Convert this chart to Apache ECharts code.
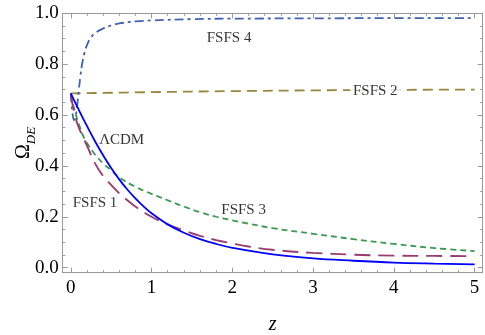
<!DOCTYPE html>
<html><head><meta charset="utf-8">
<script src="https://cdn.jsdelivr.net/npm/echarts@6/dist/echarts.min.js"></script>
<style>html,body{margin:0;padding:0;background:#fff}#c{width:485px;height:335px}</style>
</head><body><div id="c"></div>
<script>
// ΛCDM (solid blue)
const zLCDM = [0,0.1,0.2,0.3,0.4,0.5,0.6,0.7,0.8,0.9,1.0,1.2,1.4,1.6,1.8,2.0,2.5,3.0,3.5,4.0,4.5,5.0];
const vLCDM = [0.685,0.620,0.557,0.497,0.442,0.392,0.347,0.307,0.272,0.241,0.214,0.170,0.137,0.112,0.093,0.078,0.052,0.036,0.027,0.020,0.016,0.013];
// FSFS 1 (purple long dash)
const zF1 = [0,0.05,0.1,0.15,0.2,0.3,0.4,0.5,0.6,0.7,0.8,1.0,1.2,1.4,1.6,1.8,2.0,2.2,2.5,3.0,3.5,4.0,4.5,5.0];
const vF1 = [0.68,0.60,0.55,0.515,0.48,0.41,0.36,0.325,0.292,0.265,0.240,0.200,0.170,0.146,0.125,0.108,0.095,0.083,0.070,0.058,0.051,0.047,0.046,0.045];
// FSFS 2 (olive dash)
const zF2 = [0,1,2,3,4,5];
const vF2 = [0.685,0.690,0.694,0.697,0.699,0.700];
// FSFS 3 (green short dash)
const zF3 = [0,0.05,0.1,0.15,0.2,0.3,0.4,0.5,0.6,0.8,1.0,1.2,1.4,1.6,1.8,2.0,2.2,2.5,3.0,3.5,4.0,4.5,5.0];
const vF3 = [0.68,0.615,0.565,0.52,0.49,0.445,0.41,0.383,0.355,0.318,0.290,0.265,0.240,0.218,0.200,0.186,0.173,0.155,0.133,0.112,0.093,0.077,0.065];
// FSFS 4 (blue dash-dot)
const zF4 = [0,0.02,0.04,0.06,0.08,0.1,0.12,0.14,0.17,0.2,0.25,0.3,0.4,0.5,0.6,0.8,1.0,1.5,2.0,3.0,4.0,5.0];
const vF4 = [0.685,0.610,0.580,0.595,0.640,0.700,0.755,0.800,0.845,0.875,0.905,0.922,0.940,0.952,0.960,0.968,0.972,0.977,0.979,0.980,0.981,0.981];

const xMajor = [0,1,2,3,4,5];
const xMinor = [0.2,0.4,0.6,0.8,1.2,1.4,1.6,1.8,2.2,2.4,2.6,2.8,3.2,3.4,3.6,3.8,4.2,4.4,4.6,4.8];
const yMajor = [0,0.2,0.4,0.6,0.8,1.0];
const yMinor = [0.05,0.1,0.15,0.25,0.3,0.35,0.45,0.5,0.55,0.65,0.7,0.75,0.85,0.9,0.95];

const labelTexts = ['FSFS 4','FSFS 2','\u039BCDM','FSFS 1','FSFS 3'];
const labelZ = [1.96,3.77,0.63,0.30,2.14];
const labelV = [0.904,0.695,0.502,0.254,0.226];
const labelBg = [false,true,false,false,false];

const pair = (zs, vs) => zs.map((z, i) => [z, vs[i]]);
const FRAME = '#999';
const SERIF = 'Liberation Serif';

function xAx(pos, vals, len, labels, line, name) {
  return {
    type: 'value', position: pos, min: -0.1, max: 5.1,
    name: name || '', nameLocation: 'middle', nameGap: 42, nameMoveOverlap: false,
    nameTextStyle: {fontFamily: SERIF, fontStyle: 'italic', fontSize: 20, color: '#000'},
    axisLine: {show: line, onZero: false, lineStyle: {color: FRAME, width: 1}},
    axisTick: {show: true, inside: true, length: len, customValues: vals, lineStyle: {color: FRAME, width: 1}},
    axisLabel: {show: labels, customValues: vals, formatter: v => String(Math.round(v)), fontFamily: SERIF, fontSize: 19, color: '#000', margin: 6},
    splitLine: {show: false}
  };
}
function yAx(pos, vals, len, labels, line, name) {
  return {
    type: 'value', position: pos, min: -0.02, max: 1.0,
    name: name || '', nameLocation: 'middle', nameGap: 25, nameRotate: 90, nameMoveOverlap: false,
    nameTextStyle: {
      fontFamily: SERIF, color: '#000',
      rich: {
        o: {fontFamily: SERIF, fontSize: 20, lineHeight: 24, verticalAlign: 'top', color: '#000'},
        s: {fontFamily: SERIF, fontSize: 13, fontStyle: 'italic', lineHeight: 24, verticalAlign: 'bottom', color: '#000'}
      }
    },
    axisLine: {show: line, onZero: false, lineStyle: {color: FRAME, width: 1}},
    axisTick: {show: true, inside: true, length: len, customValues: vals, lineStyle: {color: FRAME, width: 1}},
    axisLabel: {show: labels, customValues: vals, formatter: v => v.toFixed(1), fontFamily: SERIF, fontSize: 19, color: '#000', margin: 4},
    splitLine: {show: false}
  };
}

const chart = echarts.init(document.getElementById('c'), null, {renderer: 'canvas'});
const lineSeries = (name, data, color, type, w) => ({
  name, type: 'line', data, xAxisIndex: 0, yAxisIndex: 0, showSymbol: false, symbol: 'none',
  smooth: 0.4, animation: false, clip: true,
  lineStyle: {color, width: w, type}, z: 3
});

chart.setOption({
  animation: false,
  backgroundColor: '#fff',
  grid: {left: 62.7, top: 13.3, right: 2.3, bottom: 62.3, containLabel: false, outerBoundsMode: 'none'},
  xAxis: [
    xAx('bottom', xMajor, 5, true, true, 'z'),
    xAx('bottom', xMinor, 2.5, false, false),
    xAx('top', xMajor, 5, false, true),
    xAx('top', xMinor, 2.5, false, false)
  ],
  yAxis: [
    yAx('left', yMajor, 5, true, true, '{o|\u03A9}{s|DE}'),
    yAx('left', yMinor, 2.5, false, false),
    yAx('right', yMajor, 5, false, true),
    yAx('right', yMinor, 2.5, false, false)
  ],
  series: [
    lineSeries('FSFS 2', pair(zF2, vF2), '#99873D', [10, 6], 1.8),
    lineSeries('FSFS 4', pair(zF4, vF4), '#4062B0', [9, 4, 3, 4], 1.8),
    lineSeries('FSFS 3', pair(zF3, vF3), '#3D9951', [6, 4], 1.8),
    lineSeries('FSFS 1', pair(zF1, vF1), '#993D71', [16, 8], 1.9),
    lineSeries('\u039BCDM', pair(zLCDM, vLCDM), '#0000FF', 'solid', 1.8),
    {
      type: 'scatter', xAxisIndex: 0, yAxisIndex: 0, symbolSize: 0, z: 10, animation: false,
      data: labelTexts.map((t, i) => ({
        value: [labelZ[i], labelV[i]], name: t,
        label: labelBg[i] ? {backgroundColor: '#fff', padding: [0, 3]} : {}
      })),
      label: {
        show: true, position: 'inside', formatter: p => p.name,
        fontFamily: SERIF, fontSize: 15, color: '#000'
      }
    }
  ]
});
</script></body></html>
